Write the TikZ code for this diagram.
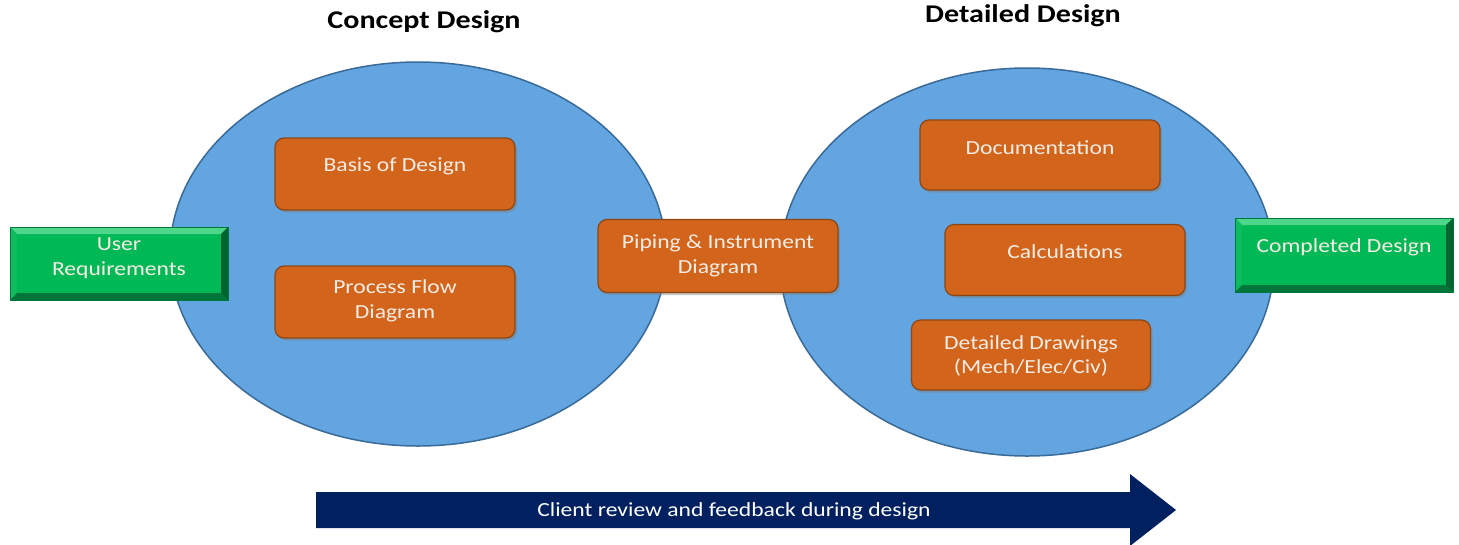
\documentclass[tikz,border=0pt]{standalone}
\usepackage{fontspec}
\setmainfont{Carlito}
\newfontfamily\boxfont[FakeStretch=1.18]{Carlito}
\usetikzlibrary{shadows}
\definecolor{circblue}{HTML}{62A5E0}
\definecolor{circedge}{HTML}{3A6A98}
\definecolor{orangefill}{HTML}{D2651B}
\definecolor{orangeedge}{HTML}{8C4514}
\definecolor{greenfill}{HTML}{00B856}
\definecolor{greenlight}{HTML}{4ED68A}
\definecolor{greendark}{HTML}{00763A}
\definecolor{navy}{HTML}{002060}
\definecolor{boxtext}{HTML}{F6EDE6}
\begin{document}
\begin{tikzpicture}[x=1pt,y=-1pt,
  obox/.style={draw=orangeedge, line width=1.2pt, fill=orangefill, rounded corners=9pt,
     drop shadow={opacity=0.45, shadow xshift=2pt, shadow yshift=-2.5pt}},
  gbox/.style={fill=greenfill, draw=greendark, line width=0.8pt},
  btext/.style={text=boxtext, font=\boxfont\fontsize{20}{24.5}\selectfont, align=center},
  ttext/.style={font=\boxfont\bfseries\fontsize{25.5}{28}\selectfont, text=black}
]
\useasboundingbox (0,0) rectangle (1459,544);
\fill[white] (0,0) rectangle (1459,544);

% phases
\draw[circedge, line width=1.5pt, fill=circblue] (418,254) ellipse [x radius=248, y radius=192];
\draw[circedge, line width=1.5pt, fill=circblue] (1027,262) ellipse [x radius=247, y radius=194];

% titles
\node[ttext] (t1) at (424,22) {Concept Design};
\node[ttext] (t2) at (1023,16) {Detailed Design};

% green bevel boxes
\newcommand{\bevelbox}[5]{%
  \node[gbox, minimum width={#4-#2}, minimum height={#5-#3}, inner sep=0pt] (#1) at ({(#2+#4)/2},{(#3+#5)/2}) {};
  \fill[greenlight] (#2,#3) -- (#4,#3) -- ({#4-7},{#3+7}) -- ({#2+7},{#3+7}) -- cycle;
  \fill[greenfill!85!greenlight] (#2,#3) -- ({#2+7},{#3+7}) -- ({#2+7},{#5-7}) -- (#2,#5) -- cycle;
  \fill[greendark] (#2,#5) -- ({#2+7},{#5-7}) -- ({#4-7},{#5-7}) -- (#4,#5) -- cycle;
  \fill[greendark!85!black] (#4,#3) -- ({#4-7},{#3+7}) -- ({#4-7},{#5-7}) -- (#4,#5) -- cycle;
  \draw[greendark, line width=0.8pt] (#2,#3) rectangle (#4,#5);
}
\bevelbox{ur}{10}{227}{228}{300}
\node[btext] (urt) at (119,258) {User\\Requirements};
\bevelbox{cd}{1235}{218}{1453}{292}
\node[btext] (cdt) at (1344,247) {Completed Design};

% orange boxes
\node[obox, minimum width=240pt, minimum height=72pt] (bod) at (395,174) {};
\node[btext] (bodt) at (395,166) {Basis of Design};
\node[obox, minimum width=240pt, minimum height=72pt] (pfd) at (395,302) {};
\node[btext] (pfdt) at (395,301) {Process Flow\\Diagram};
\node[obox, minimum width=240pt, minimum height=73pt] (pid) at (718,256) {};
\node[btext] (pidt) at (718,256) {Piping \& Instrument\\Diagram};
\node[obox, minimum width=240pt, minimum height=70pt] (doc) at (1040,155) {};
\node[btext] (doct) at (1040,148) {Documentation};
\node[obox, minimum width=240pt, minimum height=71pt] (calc) at (1065,260) {};
\node[btext] (calct) at (1065,252) {Calculations};
\node[obox, minimum width=239pt, minimum height=70pt] (dd) at (1031,355) {};
\node[btext] (ddt) at (1031,356) {Detailed Drawings\\(Mech/Elec/Civ)};

% feedback arrow
\fill[navy] (316,492) -- (1130,492) -- (1130,474) -- (1176,510) -- (1130,546) -- (1130,528) -- (316,528) -- cycle;
\node[text=white, font=\boxfont\fontsize{20}{22}\selectfont] (fb) at (734,511) {Client review and feedback during design};
\end{tikzpicture}
\end{document}
